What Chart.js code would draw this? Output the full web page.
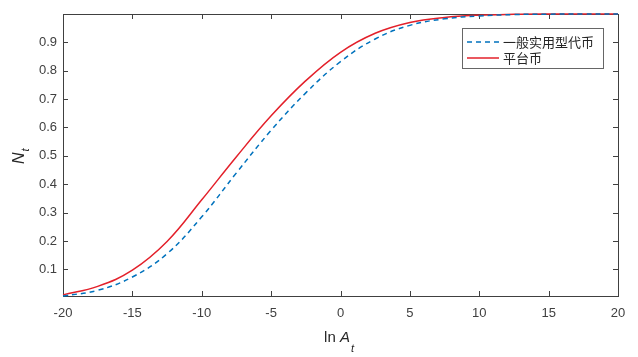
<!DOCTYPE html>
<html><head><meta charset="utf-8">
<script src="https://cdn.jsdelivr.net/npm/chart.js@4/dist/chart.umd.min.js"></script>
<style>html,body{margin:0;padding:0;background:#fff}#wrap{width:638px;height:357px}</style>
</head><body><div id="wrap"><canvas id="c" width="638" height="357"></canvas></div>
<script>
const lnA = [-20,-17.5,-15,-12.5,-10,-7.5,-5,-2.5,0,2.5,5,7.5,10,12.5,15,17.5,20];
const utilityToken = [0.006,0.026,0.073,0.155,0.285,0.440,0.590,0.722,0.832,0.912,0.960,0.983,0.993,0.998,0.9995,1.0,1.0];
const platformToken = [0.010,0.040,0.097,0.198,0.345,0.497,0.641,0.765,0.865,0.932,0.970,0.988,0.996,0.999,1.0,1.0,1.0];
const seriesNames = ['一般实用型代币','平台币'];
const xTicks = [-20,-15,-10,-5,0,5,10,15,20];
const yTicks = [0.1,0.2,0.3,0.4,0.5,0.6,0.7,0.8,0.9];

const AX = '#404040';
const toPts = ys => lnA.map((x,i)=>({x:x,y:ys[i]}));

const boxPlugin = {
  id:'box',
  beforeDatasetsDraw(chart){
    const {ctx, chartArea:a, scales:{x,y}} = chart;
    ctx.save();
    ctx.strokeStyle = AX; ctx.lineWidth = 1;
    ctx.strokeRect(Math.round(a.left)+0.5, Math.round(a.top)+0.5, Math.round(a.right-a.left), Math.round(a.bottom-a.top));
    const L=5;
    ctx.beginPath();
    xTicks.forEach(v=>{const px=Math.round(x.getPixelForValue(v))+0.5;
      ctx.moveTo(px,a.bottom); ctx.lineTo(px,a.bottom-L);
      ctx.moveTo(px,a.top); ctx.lineTo(px,a.top+L);});
    yTicks.forEach(v=>{const py=Math.round(y.getPixelForValue(v))+0.5;
      ctx.moveTo(a.left,py); ctx.lineTo(a.left+L,py);
      ctx.moveTo(a.right,py); ctx.lineTo(a.right-L,py);});
    ctx.stroke();
    // axis titles
    ctx.fillStyle = '#262626';
    ctx.textBaseline = 'alphabetic';
    ctx.font = '15px "Liberation Sans", Arial, sans-serif';
    const cx = (a.left+a.right)/2;
    const w1 = ctx.measureText('ln ').width;
    ctx.font = 'italic 15px "Liberation Sans", Arial, sans-serif';
    const w2 = ctx.measureText('A').width;
    ctx.font = 'italic 11px "Liberation Sans", Arial, sans-serif';
    const w3 = ctx.measureText('t').width;
    let sx = cx - (w1+w2+w3)/2 - 2;
    ctx.font = '15px "Liberation Sans", Arial, sans-serif';
    ctx.fillText('ln ', sx, 342);
    ctx.font = 'italic 15px "Liberation Sans", Arial, sans-serif';
    ctx.fillText('A', sx+w1, 342);
    ctx.font = 'italic 11px "Liberation Sans", Arial, sans-serif';
    ctx.fillText('t', sx+w1+w2+1, 352);
    // y title
    ctx.save();
    ctx.translate(24, (a.top+a.bottom)/2+9);
    ctx.rotate(-Math.PI/2);
    ctx.font = 'italic 16px "Liberation Sans", Arial, sans-serif';
    ctx.fillText('N', 0, 0);
    const wn = ctx.measureText('N').width;
    ctx.font = 'italic 11px "Liberation Sans", Arial, sans-serif';
    ctx.fillText('t', wn+1, 5);
    ctx.restore();
    ctx.restore();
  },
  afterDraw(chart){
    const {ctx} = chart;
    ctx.save();
    const lx=462, ly=28, lw=141, lh=40;
    ctx.fillStyle='#fff'; ctx.fillRect(lx,ly,lw,lh);
    ctx.strokeStyle='#666'; ctx.lineWidth=1;
    ctx.strokeRect(lx+0.5,ly+0.5,lw,lh);
    ctx.font = '13px "Noto Sans CJK SC", sans-serif';
    ctx.textBaseline='middle';
    chart.data.datasets.forEach((ds,i)=>{
      const yy = ly + 14 + i*16;
      ctx.strokeStyle = ds.borderColor; ctx.lineWidth = 1.5;
      ctx.setLineDash(ds.borderDash||[]);
      ctx.beginPath(); ctx.moveTo(467,yy); ctx.lineTo(499,yy); ctx.stroke();
      ctx.setLineDash([]);
      ctx.fillStyle = '#262626';
      ctx.fillText(ds.label, 503, yy);
    });
    ctx.restore();
  }
};

new Chart(document.getElementById('c'), {
  type:'line',
  data:{datasets:[
    {label:seriesNames[0], data:toPts(utilityToken), borderColor:'#0072BD', borderWidth:1.5, borderDash:[5,4], pointRadius:0, tension:0.4, fill:false, clip:4},
    {label:seriesNames[1], data:toPts(platformToken), borderColor:'#E3202A', borderWidth:1.5, pointRadius:0, tension:0.4, fill:false, clip:4}
  ]},
  options:{
    responsive:false, animation:false,
    layout:{padding:{left:0,top:14,right:20,bottom:0}},
    plugins:{legend:{display:false}, tooltip:{enabled:false}},
    scales:{
      x:{type:'linear', min:-20, max:20,
        grid:{display:false, drawTicks:false}, border:{display:false},
        afterBuildTicks(s){ s.ticks = xTicks.map(v=>({value:v})); },
        afterFit(s){ s.height = 61; },
        ticks:{padding:10, color:AX, font:{family:'"Liberation Sans", Arial, sans-serif', size:13}, callback:v=>String(v), maxRotation:0, autoSkip:false}},
      y:{type:'linear', min:0.006, max:1,
        grid:{display:false, drawTicks:false}, border:{display:false},
        afterBuildTicks(s){ s.ticks = yTicks.map(v=>({value:v})); },
        afterFit(s){ s.width = 63; },
        ticks:{padding:6, color:AX, font:{family:'"Liberation Sans", Arial, sans-serif', size:13}, callback:v=>String(Math.round(v*10)/10), autoSkip:false}}
    }
  },
  plugins:[boxPlugin]
});
</script></body></html>
